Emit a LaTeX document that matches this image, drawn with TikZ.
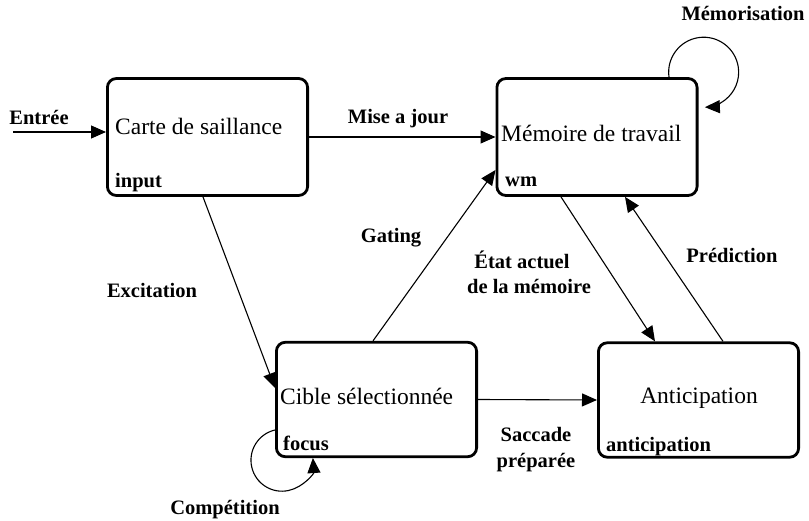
\documentclass[tikz,border=0pt]{standalone}
\usepackage{fontspec}
\setmainfont{Liberation Serif}
\usetikzlibrary{arrows.meta}
\begin{document}
\begin{tikzpicture}[x=1pt,y=-1pt,
  box/.style={draw, line width=2.8pt, rounded corners=9pt, minimum width=200.2pt, inner sep=0pt},
  conn/.style={line width=1.1pt, -{Triangle[length=15pt,width=13pt]}},
  main/.style={font=\fontsize{23.5}{26}\selectfont, inner sep=0pt},
  lab/.style={font=\fontsize{20.5}{26}\selectfont\bfseries, inner sep=0pt}]
\useasboundingbox (0,0) rectangle (809,521);
% boxes
\node[box, minimum height=117pt] (b1) at (207.5,137) {};
\node[box, minimum height=117pt] (b2) at (597,137) {};
\node[box, minimum height=114.5pt] (b3) at (376.5,399.5) {};
\node[box, minimum height=114.5pt] (b4) at (698.5,400) {};
% box texts
\node[main, anchor=base west] (t1) at (115,135) {Carte de saillance};
\node[lab, anchor=base west] (s1) at (115,188) {input};
\node[main, anchor=base west] (t2) at (501,142) {Mémoire de travail};
\node[lab, anchor=base west] (s2) at (505,187) {wm};
\node[main, anchor=base west] (t3) at (280,404) {Cible sélectionnée};
\node[lab, anchor=base west] (s3) at (283,450) {focus};
\node[main, anchor=base] (t4) at (699,403) {Anticipation};
\node[lab, anchor=base west] (s4) at (606,451) {anticipation};
% connector labels
\node[lab, anchor=base] (lin) at (39,125) {Entrée};
\node[lab, anchor=base] (lmaj) at (398,124) {Mise a jour};
\node[lab, anchor=base] (lmem) at (743,21) {Mémorisation};
\node[lab, anchor=base] (lexc) at (152,298) {Excitation};
\node[lab, anchor=base] (lgat) at (391,243) {Gating};
\node[lab, anchor=base] (leta1) at (522,269) {État actuel};
\node[lab, anchor=base] (leta2) at (529,294) {de la mémoire};
\node[lab, anchor=base] (lpre) at (732,263) {Prédiction};
\node[lab, anchor=base] (lsac1) at (536,442) {Saccade};
\node[lab, anchor=base] (lsac2) at (536,467) {préparée};
\node[lab, anchor=base] (lcom) at (225,514) {Compétition};
% connectors
\coordinate (in) at (13,132);
\draw[conn] (in) -- ([yshift=5pt]b1.west);
\draw[conn] (b1.east) -- (b2.west);
\draw[conn] ([xshift=-4.5pt]b1.south) -- ([yshift=11.5pt]b3.west);
\draw[conn] ([xshift=-3.5pt]b3.north) -- ([yshift=-33pt]b2.west);
\draw[conn] ([xshift=-36pt]b2.south) -- ([xshift=-43.5pt]b4.north);
\draw[conn] ([xshift=24.5pt]b4.north) -- ([xshift=28pt]b2.south);
\draw[conn] (b3.east) -- (b4.west);
\draw[conn] ([xshift=72pt]b2.north) arc[start angle=188, end angle=-88, radius=35pt];
\draw[conn] ([yshift=-30.5pt]b3.west) arc[start angle=103, end angle=364, radius=31pt];
\end{tikzpicture}
\end{document}
